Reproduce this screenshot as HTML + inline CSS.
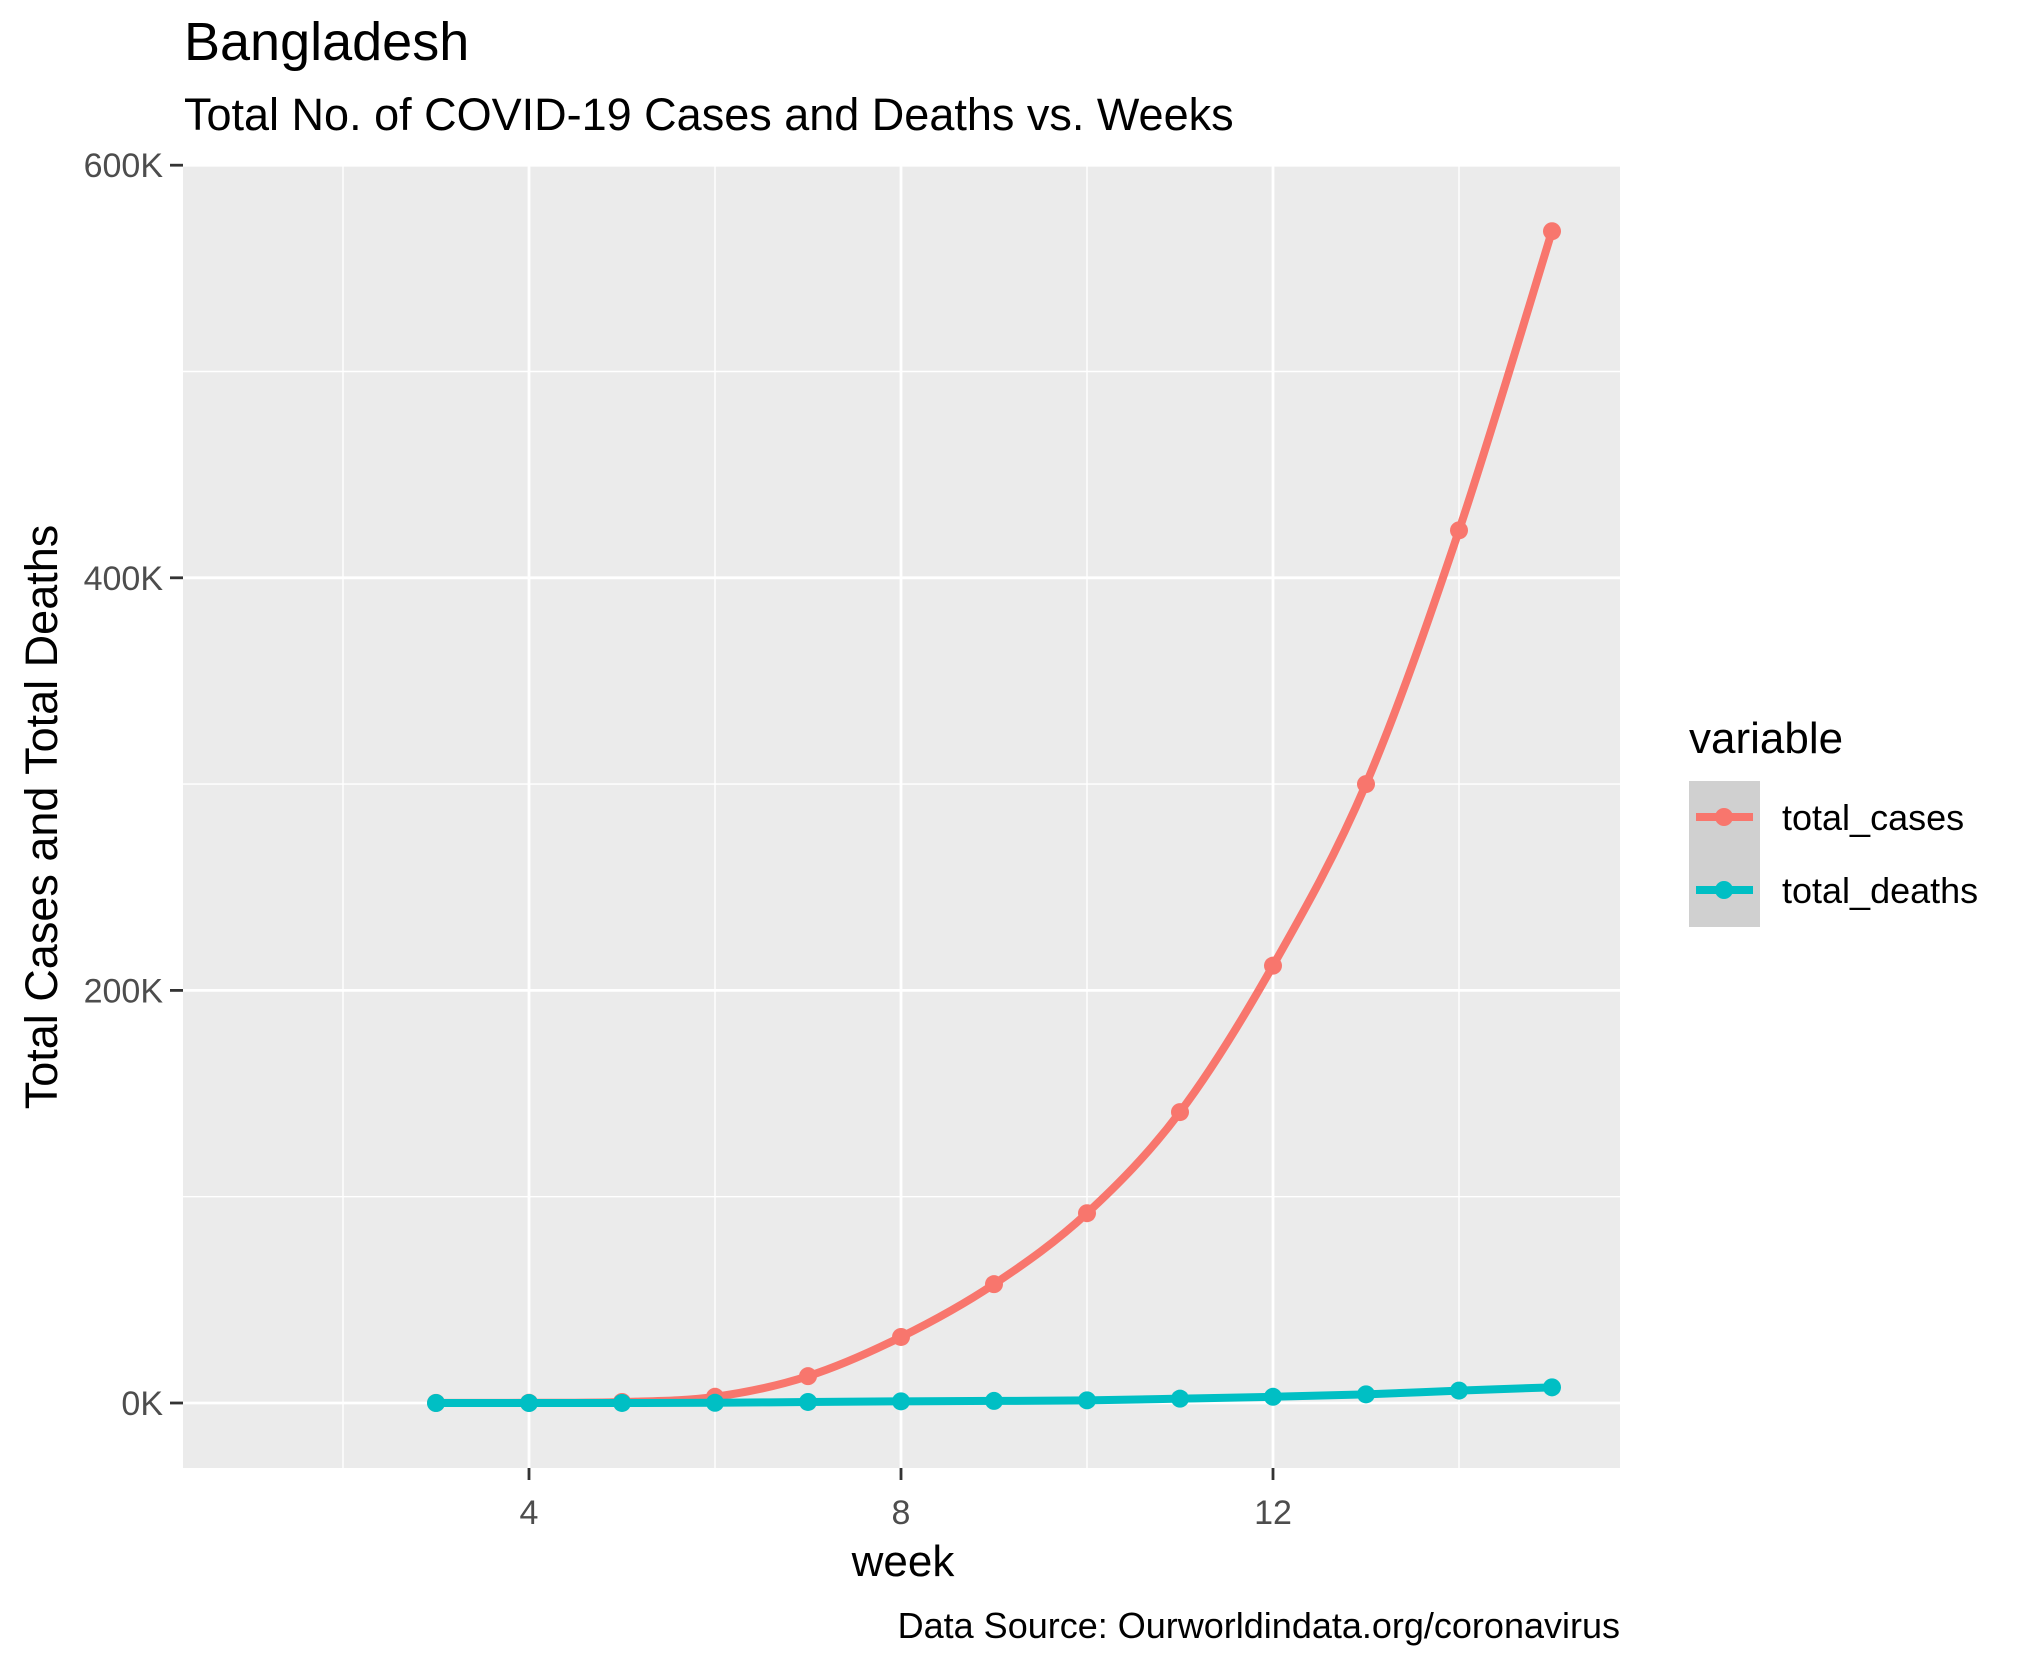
<!DOCTYPE html>
<html><head><meta charset="utf-8"><style>
html,body{margin:0;padding:0;background:#fff;}
svg{display:block;font-family:"Liberation Sans",Arial,sans-serif;}
</style></head><body>
<svg id="chart" width="2025" height="1662" viewBox="0 0 2025 1662" xmlns="http://www.w3.org/2000/svg">
<text x="184" y="60" font-size="54" fill="#000">Bangladesh</text>
<text x="184" y="130" font-size="45" fill="#000">Total No. of COVID-19 Cases and Deaths vs. Weeks</text>
<rect x="183" y="166" width="1437" height="1302" fill="#ebebeb"/>
<g id="grid"></g>
<g id="axes"></g>
<g id="series"></g>
<text transform="translate(57,817) rotate(-90)" text-anchor="middle" font-size="45" fill="#000">Total Cases and Total Deaths</text>
<text x="903" y="1576" text-anchor="middle" font-size="44" fill="#000">week</text>
<text x="1620" y="1638" text-anchor="end" font-size="36" fill="#000">Data Source: Ourworldindata.org/coronavirus</text>
<g>
<text x="1689" y="753" font-size="44" fill="#000">variable</text>
<rect x="1689" y="781" width="71" height="146" fill="#d0d0d0"/>
<g>
<line x1="1696" y1="817" x2="1753" y2="817" stroke="#f8766d" stroke-width="8"/>
<circle cx="1724" cy="817" r="9" fill="#f8766d"/>
<text x="1782" y="830" font-size="36" fill="#000">total_cases</text>
</g>
<g>
<line x1="1696" y1="890" x2="1753" y2="890" stroke="#00bfc4" stroke-width="8"/>
<circle cx="1724" cy="890" r="9" fill="#00bfc4"/>
<text x="1782" y="903" font-size="36" fill="#000">total_deaths</text>
</g>
</g>
</svg>
<script>
const weeks = [3,4,5,6,7,8,9,10,11,12,13,14,15];
const totalCases = [0.05,0.1,0.5,3,13,32,57.6,92,141,212,300,423,568];
const totalDeaths = [0,0,0.01,0.1,0.5,0.8,1.0,1.3,2.1,3.0,4.2,6.0,7.6];
const yTicks = [0,200,400,600];
const yTickLabels = ["0K","200K","400K","600K"];
const yMinor = [100,300,500];
const xTicks = [4,8,12];
const xMinor = [2,6,10,14];

const NS = "http://www.w3.org/2000/svg";
const X = w => 529 + (w - 4) * 93;
const Y = v => 1403 - v * 2.063;
const PL = 183, PR = 1620, PT = 166, PB = 1468;
function mk(tag, attrs, parent){const e=document.createElementNS(NS,tag);for(const k in attrs)e.setAttribute(k,attrs[k]);parent.appendChild(e);return e;}
const grid=document.getElementById('grid'), axes=document.getElementById('axes'), series=document.getElementById('series');
yMinor.forEach(v=>{const l=mk('line',{x1:PL,x2:PR,y1:Y(v),y2:Y(v),stroke:'#fff','stroke-width':1.4},grid);

});
xMinor.forEach(v=>{const l=mk('line',{x1:X(v),x2:X(v),y1:PT,y2:PB,stroke:'#fff','stroke-width':1.4},grid);

});
yTicks.forEach((v,i)=>{const l=mk('line',{x1:PL,x2:PR,y1:Y(v),y2:Y(v),stroke:'#fff','stroke-width':2.8},grid);


const t=mk('line',{x1:170,x2:PL,y1:Y(v),y2:Y(v),stroke:'#333','stroke-width':2.8},axes);


const tx=mk('text',{x:163,y:Y(v)+12,'text-anchor':'end','font-size':34,fill:'#4d4d4d'},axes);
tx.textContent=yTickLabels[i];

});
xTicks.forEach(v=>{const l=mk('line',{x1:X(v),x2:X(v),y1:PT,y2:PB,stroke:'#fff','stroke-width':2.8},grid);


const t=mk('line',{x1:X(v),x2:X(v),y1:PB,y2:PB+12,stroke:'#333','stroke-width':2.8},axes);


const tx=mk('text',{x:X(v),y:PB+56,'text-anchor':'middle','font-size':34,fill:'#4d4d4d'},axes);
tx.textContent=String(v);

});
function smooth(pts){let d=`M${pts[0][0]},${pts[0][1]}`;for(let i=0;i<pts.length-1;i++){const p0=pts[i-1]||pts[i],p1=pts[i],p2=pts[i+1],p3=pts[i+2]||p2;
const c1=[p1[0]+(p2[0]-p0[0])/6,p1[1]+(p2[1]-p0[1])/6],c2=[p2[0]-(p3[0]-p1[0])/6,p2[1]-(p3[1]-p1[1])/6];
d+=` C${c1[0]},${c1[1]} ${c2[0]},${c2[1]} ${p2[0]},${p2[1]}`;}return d;}
function draw(vals,color,name){const pts=weeks.map((w,i)=>[X(w),Y(vals[i])]);
const p=mk('path',{d:smooth(pts),fill:'none',stroke:color,'stroke-width':8,'stroke-linecap':'round'},series);


pts.forEach(pt=>{const c=mk('circle',{cx:pt[0],cy:pt[1],r:9,fill:color},series);

});}
draw(totalCases,'#f8766d','total-cases');
draw(totalDeaths,'#00bfc4','total-deaths');
</script>
</body></html>
